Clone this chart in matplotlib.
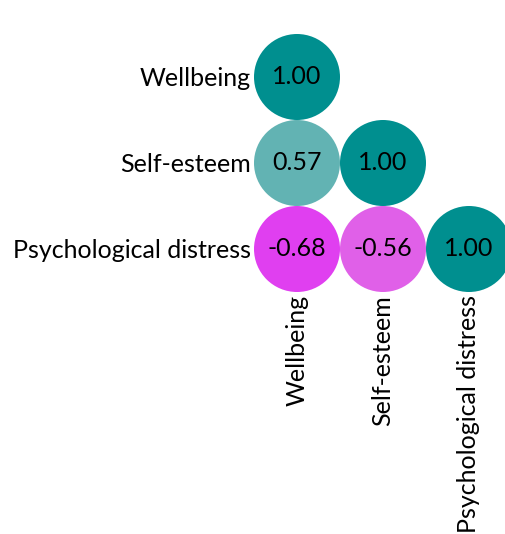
import matplotlib
matplotlib.use("Agg")
import matplotlib.pyplot as plt
from matplotlib.patches import Circle
from matplotlib.colors import LinearSegmentedColormap

variables = ["Wellbeing", "Self-esteem", "Psychological distress"]
corr = [
    [1.00, None, None],
    [0.57, 1.00, None],
    [-0.68, -0.56, 1.00],
]

cmap = LinearSegmentedColormap.from_list(
    "corr",
    [(0.0, "#D810F0"), (0.16, "#E040F0"), (0.22, "#E060E8"), (0.5, "#FFFFFF"),
     (0.785, "#62B3B3"), (1.0, "#008F8F")],
)

plt.rcParams['font.family'] = ['Lato', 'DejaVu Sans']
FS = 18
W, H = 506, 534
fig = plt.figure(figsize=(W / 100, H / 100), dpi=100)
cell = 86
x0, y_top = 254, 34
ax = fig.add_axes([x0 / W, (H - (y_top + 3 * cell)) / H, 3 * cell / W, 3 * cell / H])
n = len(variables)
ax.set_xlim(-0.5, n - 0.5)
ax.set_ylim(n - 0.5, -0.5)
ax.set_aspect('equal')
for i in range(n):
    for j in range(n):
        v = corr[i][j]
        if v is None:
            continue
        c = Circle((j, i), 0.5, facecolor=cmap((v + 1) / 2), edgecolor='none', clip_on=False)
        ax.add_patch(c)
        ax.text(j, i, f"{v:.2f}", ha='center', va='center', fontsize=FS, color='black')

ax.set_xticks(range(n))
ax.set_yticks(range(n))
ax.set_xticklabels(variables, rotation=90, fontsize=FS, va='top', ha='center')
ax.set_yticklabels(variables, fontsize=FS)
ax.tick_params(length=0, pad=2)
for s in ax.spines.values():
    s.set_visible(False)
fig.savefig("out.png", dpi=100, facecolor='white')
